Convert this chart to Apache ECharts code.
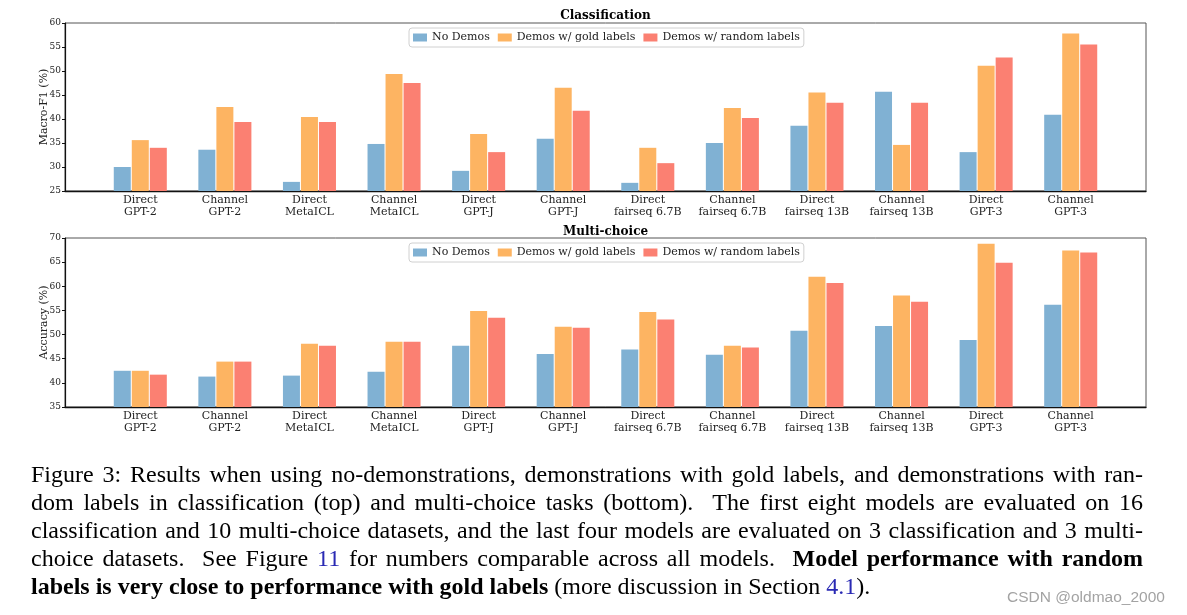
<!DOCTYPE html>
<html>
<head>
<meta charset="utf-8">
<script src="https://cdn.jsdelivr.net/npm/echarts@6/dist/echarts.min.js"></script>
<style>
html,body{margin:0;padding:0;background:#fff;width:1187px;height:615px;overflow:hidden;}
#chart{position:absolute;left:0;top:0;width:1187px;height:615px;}
#caption{position:absolute;left:31px;top:460px;width:1112px;font-family:"Liberation Serif","Times New Roman",serif;font-size:24px;color:#000;}
#caption .ln{height:28.1px;line-height:28.1px;white-space:nowrap;text-align:justify;text-align-last:justify;}
#caption .ln.last{text-align:left;text-align-last:left;}
#caption b{font-weight:bold;}
#caption .lk{color:#2a2ab4;}
#wm{position:absolute;left:1007px;top:588px;font-family:"Liberation Sans",Arial,sans-serif;font-size:15.5px;color:#a3a3a3;white-space:nowrap;}
</style>
</head>
<body>
<div id="chart"></div>
<div id="caption">
<div class="ln">Figure 3: Results when using no-demonstrations, demonstrations with gold labels, and demonstrations with ran-</div>
<div class="ln">dom labels in classification (top) and multi-choice tasks (bottom).&nbsp; The first eight models are evaluated on 16</div>
<div class="ln">classification and 10 multi-choice datasets, and the last four models are evaluated on 3 classification and 3 multi-</div>
<div class="ln">choice datasets.&nbsp; See Figure <span class="lk">11</span> for numbers comparable across all models.&nbsp; <b>Model performance with random</b></div>
<div class="ln last"><b>labels is very close to performance with gold labels</b> (more discussion in Section <span class="lk">4.1</span>).</div>
</div>
<div id="wm">CSDN @oldmao_2000</div>
<script>
var categories = ["Direct\nGPT-2", "Channel\nGPT-2", "Direct\nMetaICL", "Channel\nMetaICL", "Direct\nGPT-J", "Channel\nGPT-J", "Direct\nfairseq 6.7B", "Channel\nfairseq 6.7B", "Direct\nfairseq 13B", "Channel\nfairseq 13B", "Direct\nGPT-3", "Channel\nGPT-3"];
var seriesNames = ["No Demos", "Demos w/ gold labels", "Demos w/ random labels"];

var clsNoDemos = [30.0, 33.6, 26.9, 34.8, 29.2, 35.9, 26.7, 35.0, 38.6, 45.7, 33.1, 40.9];
var clsGold    = [35.6, 42.5, 40.4, 49.4, 36.9, 46.5, 34.0, 42.3, 45.5, 34.6, 51.1, 57.8];
var clsRandom  = [34.0, 39.4, 39.4, 47.5, 33.1, 41.7, 30.8, 40.2, 43.4, 43.4, 52.8, 55.5];

var mcNoDemos = [42.5, 41.3, 41.5, 42.3, 47.7, 46.0, 46.9, 45.8, 50.8, 51.8, 48.9, 56.2];
var mcGold    = [42.5, 44.4, 48.1, 48.5, 54.9, 51.6, 54.7, 47.7, 62.0, 58.1, 68.8, 67.4];
var mcRandom  = [41.7, 44.4, 47.7, 48.5, 53.5, 51.4, 53.1, 47.3, 60.7, 56.8, 64.9, 67.0];

var clsTicks = {min: 25, max: 60, interval: 5};
var mcTicks = {min: 35, max: 70, interval: 5};

var colors = ["#80b1d3", "#fdb462", "#fb8072"];
var SERIF = "DejaVu Serif";

var chart = echarts.init(document.getElementById('chart'), null, {renderer: 'canvas'});

function frameGrid(top, h) {
  return {left: 65, top: top, width: 1081, height: h, show: true, borderColor: '#555', borderWidth: 1, backgroundColor: 'transparent', containLabel: false};
}
function dataGrid(top, h) {
  return {left: 98, top: top, width: 1015, height: h, show: false, containLabel: false};
}
function frameX(gi) {
  return {gridIndex: gi, type: 'value', min: 0, max: 1, axisLine: {show: true, lineStyle: {color: '#111', width: 1.4}}, axisTick: {show: false}, axisLabel: {show: false}, splitLine: {show: false}};
}
function dataX(gi) {
  return {gridIndex: gi, type: 'category', data: categories, axisLine: {show: false}, axisTick: {show: false}, splitLine: {show: false},
    axisLabel: {interval: 0, margin: 3, fontFamily: SERIF, fontSize: 11, lineHeight: 12, color: '#222'}};
}
function frameY(gi, t, name) {
  return {gridIndex: gi, type: 'value', min: t.min, max: t.max, interval: t.interval,
    axisLine: {show: true, lineStyle: {color: '#111', width: 1.2}},
    axisTick: {show: true, length: 3, inside: false, lineStyle: {color: '#111', width: 1}},
    axisLabel: {margin: 4, fontFamily: SERIF, fontSize: 9, color: '#222'},
    splitLine: {show: false},
    name: name, nameLocation: 'middle', nameRotate: 90, nameGap: 15, nameMoveOverlap: false,
    nameTextStyle: {fontFamily: SERIF, fontSize: 11, color: '#222'}};
}
function dataY(gi, t) {
  return {gridIndex: gi, type: 'value', min: t.min, max: t.max, interval: t.interval, show: false, splitLine: {show: false}};
}
function legendAt(top) {
  return {left: 409, top: top, orient: 'horizontal', data: seriesNames, icon: 'rect', itemWidth: 14, itemHeight: 8, itemGap: 8,
    padding: [4, 4, 4, 4], borderColor: '#d0d0d0', borderWidth: 1, borderRadius: 3, backgroundColor: '#fff',
    textStyle: {fontFamily: SERIF, fontSize: 11, color: '#222'}, selectedMode: false};
}
function barSeries(name, data, idx, axisIdx) {
  return {type: 'bar', name: name, data: data, xAxisIndex: axisIdx, yAxisIndex: axisIdx, barWidth: 17, barGap: '6%',
    itemStyle: {color: colors[idx]}, animation: false, z: 3};
}

var option = {
  animation: false,
  color: colors,
  grid: [frameGrid(23, 168), dataGrid(23, 168), frameGrid(238, 169), dataGrid(238, 169)],
  xAxis: [frameX(0), dataX(1), frameX(2), dataX(3)],
  yAxis: [frameY(0, clsTicks, 'Macro-F1 (%)'), dataY(1, clsTicks), frameY(2, mcTicks, 'Accuracy (%)'), dataY(3, mcTicks)],
  legend: [legendAt(28), legendAt(243)],
  series: [
    barSeries(seriesNames[0], clsNoDemos, 0, 1),
    barSeries(seriesNames[1], clsGold, 1, 1),
    barSeries(seriesNames[2], clsRandom, 2, 1),
    barSeries(seriesNames[0], mcNoDemos, 0, 3),
    barSeries(seriesNames[1], mcGold, 1, 3),
    barSeries(seriesNames[2], mcRandom, 2, 3)
  ],
  graphic: [
    {type: 'text', x: 605.5, y: 16, style: {text: 'Classification', textAlign: 'center', textVerticalAlign: 'middle', font: 'bold 12px "DejaVu Serif"', fill: '#000'}},
    {type: 'text', x: 605.5, y: 232, style: {text: 'Multi-choice', textAlign: 'center', textVerticalAlign: 'middle', font: 'bold 12px "DejaVu Serif"', fill: '#000'}}
  ]
};
chart.setOption(option);
</script>
</body>
</html>
